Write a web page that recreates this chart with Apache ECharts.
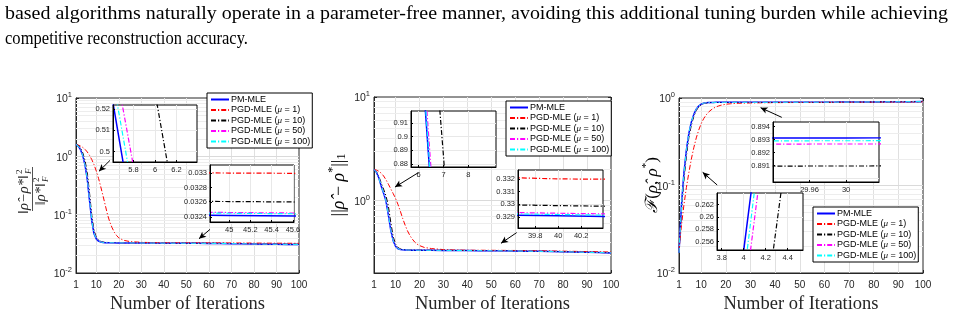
<!DOCTYPE html>
<html><head><meta charset="utf-8">
<script src="https://cdn.jsdelivr.net/npm/echarts@6/dist/echarts.min.js"></script>
<style>html,body{margin:0;padding:0;background:#fff}#c{width:953px;height:314px}</style>
</head><body><div id="c"></div>
<script>
// ---------------- DATA ----------------
const iterations = [1,2,3,4,5,6,7,8,9,10,11,12,13,14,15,16,17,18,19,20,22,25,30,35,40,45,50,55,60,65,70,75,80,85,90,95,100];
const seriesNames = ['PM-MLE','PGD-MLE (μ = 1)','PGD-MLE (μ = 10)','PGD-MLE (μ = 50)','PGD-MLE (μ = 100)'];
const xTickLabels = [1,10,20,30,40,50,60,70,80,90,100];

// left panel: relative Frobenius error
const relErrPM    = [1.60,1.50,1.30,1.03,0.706,0.406,0.175,0.078,0.047,0.0385,0.0352,0.0340,0.0334,0.0331,0.0330,0.03295,0.0329,0.03287,0.03284,0.03281,0.03277,0.03271,0.03262,0.03254,0.03247,0.03242,0.03236,0.03228,0.0322,0.0320,0.0318,0.0316,0.0314,0.0312,0.0311,0.0309,0.0308];
const relErrMu1   = [1.60,1.56,1.50,1.42,1.32,1.19,1.04,0.88,0.72,0.56,0.42,0.30,0.21,0.145,0.10,0.075,0.06,0.05,0.044,0.04,0.0365,0.0345,0.0336,0.03322,0.03305,0.0330,0.03297,0.03293,0.0329,0.03282,0.03274,0.03266,0.03258,0.0325,0.03243,0.03236,0.0323];
const relErrMu10  = [1.60,1.53,1.38,1.15,0.85,0.528,0.238,0.098,0.054,0.041,0.0365,0.0348,0.034,0.0336,0.0334,0.03325,0.03316,0.0331,0.03305,0.033,0.03294,0.03288,0.0328,0.03272,0.03266,0.03261,0.03256,0.03248,0.0324,0.03225,0.03205,0.03185,0.03165,0.03145,0.0313,0.0312,0.0311];
const relErrMu50  = [1.60,1.51,1.32,1.05,0.717,0.437,0.195,0.086,0.05,0.0392,0.0355,0.0342,0.0336,0.0333,0.0331,0.033,0.03295,0.03292,0.03289,0.03286,0.03282,0.03276,0.03267,0.03258,0.03251,0.03246,0.0324,0.03232,0.03224,0.03206,0.03186,0.03166,0.03146,0.03126,0.03112,0.03102,0.0309];
const relErrMu100 = [1.60,1.50,1.31,1.04,0.711,0.421,0.185,0.082,0.048,0.0388,0.0353,0.0341,0.0335,0.0332,0.03305,0.03298,0.03293,0.0329,0.03287,0.03284,0.0328,0.03274,0.03265,0.03257,0.0325,0.03245,0.03239,0.03231,0.03223,0.03205,0.03185,0.03165,0.03145,0.03125,0.0311,0.031,0.0309];

// middle panel: trace distance
const traceDistPM    = [2.00,1.88,1.66,1.38,1.18,0.989,0.729,0.52,0.41,0.362,0.343,0.337,0.3345,0.3335,0.3329,0.3325,0.3322,0.332,0.3318,0.3316,0.3313,0.3309,0.3303,0.3297,0.3291,0.3285,0.3279,0.3271,0.3262,0.325,0.3236,0.322,0.3203,0.3185,0.3167,0.3148,0.3128];
const traceDistMu1   = [2.00,1.97,1.92,1.84,1.73,1.59,1.44,1.30,1.17,1.05,0.92,0.79,0.67,0.58,0.51,0.46,0.425,0.398,0.38,0.368,0.353,0.3445,0.3365,0.3332,0.3320,0.3317,0.3312,0.3306,0.3299,0.329,0.3278,0.3265,0.3251,0.3236,0.3221,0.3205,0.319];
const traceDistMu10  = [2.00,1.90,1.72,1.48,1.29,1.115,0.885,0.62,0.45,0.38,0.352,0.342,0.3378,0.3358,0.3347,0.334,0.3336,0.3333,0.333,0.3328,0.3325,0.332,0.3313,0.3306,0.3299,0.3293,0.3287,0.3279,0.327,0.3258,0.3244,0.3228,0.3211,0.3193,0.3175,0.3156,0.3136];
const traceDistMu50  = [2.00,1.89,1.68,1.40,1.20,1.005,0.745,0.535,0.418,0.367,0.346,0.3385,0.3357,0.3345,0.3337,0.3332,0.3329,0.3326,0.3324,0.3322,0.3319,0.3314,0.3307,0.33,0.3293,0.3287,0.3281,0.3273,0.3264,0.3252,0.3238,0.3222,0.3205,0.3187,0.3169,0.315,0.313];
const traceDistMu100 = [2.00,1.88,1.67,1.39,1.19,0.994,0.734,0.525,0.413,0.364,0.344,0.3378,0.3352,0.3341,0.3334,0.333,0.3327,0.3324,0.3322,0.332,0.3317,0.3312,0.3306,0.3299,0.3292,0.3286,0.328,0.3272,0.3263,0.3251,0.3237,0.3221,0.3204,0.3186,0.3168,0.3149,0.3129];

// right panel: fidelity
const fidelityPM    = [0.017,0.06,0.14,0.2546,0.394,0.53,0.65,0.745,0.81,0.85,0.872,0.882,0.887,0.8895,0.8907,0.8914,0.8918,0.8921,0.8923,0.8925,0.8927,0.8929,0.89314,0.8934,0.8938,0.8943,0.8949,0.8957,0.8966,0.8977,0.899,0.9005,0.9022,0.904,0.906,0.908,0.91];
const fidelityMu1   = [0.018,0.035,0.06,0.095,0.14,0.2,0.27,0.35,0.43,0.51,0.58,0.64,0.69,0.73,0.765,0.79,0.81,0.826,0.838,0.848,0.86,0.87,0.878,0.882,0.885,0.887,0.8885,0.8897,0.891,0.8925,0.894,0.8957,0.8975,0.8995,0.9015,0.9035,0.9055];
const fidelityMu10  = [0.017,0.05,0.115,0.2187,0.352,0.49,0.615,0.72,0.792,0.838,0.864,0.876,0.8825,0.8858,0.8874,0.8884,0.889,0.8895,0.8899,0.8902,0.8905,0.8907,0.89098,0.8912,0.8916,0.8921,0.8927,0.8935,0.8944,0.8955,0.8968,0.8983,0.9,0.9018,0.9038,0.9058,0.9078];
const fidelityMu50  = [0.017,0.056,0.13,0.2459,0.386,0.525,0.645,0.74,0.806,0.847,0.87,0.8808,0.8858,0.8885,0.8898,0.8906,0.8911,0.8915,0.8918,0.892,0.8922,0.8924,0.89267,0.8929,0.8933,0.8938,0.8944,0.8952,0.8961,0.8972,0.8985,0.9,0.9017,0.9035,0.9055,0.9075,0.9095];
const fidelityMu100 = [0.017,0.058,0.135,0.2500,0.395,0.532,0.65,0.744,0.809,0.849,0.8712,0.8812,0.8862,0.8888,0.8901,0.8909,0.8914,0.8917,0.892,0.8922,0.8924,0.8926,0.89292,0.8932,0.8936,0.8941,0.8947,0.8955,0.8964,0.8975,0.8988,0.9003,0.902,0.9038,0.9058,0.9078,0.9098];

// inset tick labels
const insetL1XTicks = [5.8,6,6.2],        insetL1YTicks = [0.5,0.51,0.52];
const insetL2XTicks = [45,45.2,45.4,45.6], insetL2YTicks = [0.0324,0.0326,0.0328,0.033];
const insetM1XTicks = [6,7,8],            insetM1YTicks = [0.88,0.89,0.9,0.91];
const insetM2XTicks = [39.8,40,40.2],     insetM2YTicks = [0.329,0.33,0.331,0.332];
const insetR1XTicks = [29.96,30],         insetR1YTicks = [0.891,0.892,0.893,0.894];
const insetR2XTicks = [3.8,4,4.2,4.4],    insetR2YTicks = [0.256,0.258,0.26,0.262];

const paraLine1 = 'based algorithms naturally operate in a parameter-free manner, avoiding this additional tuning burden while achieving';
const paraLine2 = 'competitive reconstruction accuracy.';

// ---------------- BUILD ----------------
const panels = [
  {data:[relErrPM,relErrMu1,relErrMu10,relErrMu50,relErrMu100], grid:{left:76,top:98,width:223,height:175}, yMin:0.01, yMax:10,
   insets:[
     {grid:{left:113,top:105,width:84,height:57}, x:[5.61,6.39], y:[0.495,0.522], xt:insetL1XTicks, yt:insetL1YTicks},
     {grid:{left:210,top:165,width:84,height:57}, x:[44.82,45.61], y:[0.03233,0.03311], xt:insetL2XTicks, yt:insetL2YTicks}],
   arrows:[[[16.1,0.853],[11.2,0.553]],[[60.5,0.056],[55.6,0.0387]]],
   legend:{left:207,top:93}},
  {data:[traceDistPM,traceDistMu1,traceDistMu10,traceDistMu50,traceDistMu100], grid:{left:374,top:97,width:237,height:176}, yMin:0.2, yMax:10,
   insets:[
     {grid:{left:411,top:111,width:85,height:56}, x:[5.69,9.11], y:[0.8776,0.919], xt:insetM1XTicks, yt:insetM1YTicks},
     {grid:{left:518,top:170,width:85,height:58}, x:[39.65,40.39], y:[0.32814,0.3327], xt:insetM2XTicks, yt:insetM2YTicks}],
   arrows:[[[19.5,1.86],[9.77,1.35]],[[60.6,0.491],[54.05,0.387]]],
   legend:{left:506,top:101}},
  {data:[fidelityPM,fidelityMu1,fidelityMu10,fidelityMu50,fidelityMu100], grid:{left:679,top:98,width:244,height:175}, yMin:0.01, yMax:1,
   insets:[
     {grid:{left:773,top:122,width:106,height:60}, x:[29.92,30.036], y:[0.88975,0.89436], xt:insetR1XTicks, yt:insetR1YTicks},
     {grid:{left:717,top:193,width:86,height:57}, x:[3.757,4.54], y:[0.25465,0.2639], xt:insetR2XTicks, yt:insetR2YTicks}],
   arrows:[[[42.7,0.601],[34.1,0.775]],[[16.5,0.1013],[10.6,0.1415]]],
   legend:{left:813,top:207}}
];

const AX = '#262626';
const colors = ['#0000ff','#ff0000','#000000','#ff00ff','#00ffff'];
const dashDot = [5,2,1.2,2];
function lineStyleFor(i){ return i===0 ? {color:colors[0], width:1.5, type:'solid'} : {color:colors[i], width:1, type:dashDot}; }

function logMinor(min,max){ const out=[]; for(let e=-3;e<=2;e++){ for(let m=1;m<=9;m++){ const v=+(m*Math.pow(10,e)).toPrecision(6); if(v>=min*0.999 && v<=max*1.001) out.push(v);} } return out; }
function powFmt(v){ const l=Math.log10(v); const e=Math.round(l); if(Math.abs(l-e)>1e-6) return ''; return '{b|10}{s|'+e+'}'; }
const powRich = { b:{fontSize:10.5,fontFamily:'Liberation Sans',color:AX,verticalAlign:'bottom'}, s:{fontSize:7.5,fontFamily:'Liberation Sans',color:AX,verticalAlign:'bottom',padding:[0,0,6,0]} };

const grids=[], xAxes=[], yAxes=[], series=[], legends=[];

panels.forEach((p,pi)=>{
  const gi = grids.length;
  grids.push(Object.assign({show:true, backgroundColor:'#fff', borderColor:AX, borderWidth:1, z:0, containLabel:false, outerBoundsMode:'none'}, p.grid));
  const xi = xAxes.length, yi = yAxes.length;
  xAxes.push({gridIndex:gi, type:'value', min:1, max:100,
    axisLine:{show:true,lineStyle:{color:AX,width:1}},
    axisTick:{show:true,inside:true,length:3,customValues:xTickLabels,lineStyle:{color:AX}},
    axisLabel:{customValues:xTickLabels,fontSize:10,fontFamily:'Liberation Sans',color:AX,margin:7},
    splitLine:{show:false},
    name:'Number of Iterations', nameLocation:'middle', nameGap:18,
    nameTextStyle:{fontFamily:'Liberation Serif',fontSize:18.5,color:AX,verticalAlign:'top'}});
  const majors = logMinor(p.yMin,p.yMax).filter(v=>Math.abs(Math.log10(v)-Math.round(Math.log10(v)))<1e-6);
  const allTicks = logMinor(p.yMin,p.yMax);
  yAxes.push({gridIndex:gi, type:'log', logBase:10, min:p.yMin, max:p.yMax,
    axisLine:{show:true,lineStyle:{color:AX,width:1}},
    axisTick:{show:true,inside:true,length:3,customValues:allTicks,lineStyle:{color:AX}},
    axisLabel:{customValues:majors,formatter:powFmt,rich:powRich,margin:4},
    splitLine:{show:false}});
  p.data.forEach((arr,i)=>{
    series.push({type:'line', name:seriesNames[i], xAxisIndex:xi, yAxisIndex:yi,
      data: iterations.map((x,k)=>[x,arr[k]]), symbol:'none', showSymbol:false,
      lineStyle:lineStyleFor(i), z:2, silent:true, clip:true});
  });
  const gl = [];
  for (let v=10; v<=90; v+=10) gl.push({xAxis:v, lineStyle:{color:'#e0e0e0',width:1,type:'solid'}});
  allTicks.forEach(v=>{ const maj = majors.includes(v); if (v===p.yMin||v===p.yMax) return; gl.push({yAxis:v, lineStyle:{color: maj?'#dadada':'#ededed', width:1, type:'solid'}}); });
  series.push({type:'line', name:'_grid'+pi, xAxisIndex:xi, yAxisIndex:yi, data:[], silent:true,
    markLine:{silent:true, z:1, symbol:['none','none'], label:{show:false}, animation:false, data:gl}});
  series.push({type:'line', name:'_arrow'+pi, xAxisIndex:xi, yAxisIndex:yi, data:[], silent:true,
    markLine:{silent:true, z:15, label:{show:false}, animation:false, lineStyle:{color:'#000',width:1,type:'solid'},
      data:p.arrows.map(a=>[{coord:a[0],symbol:'none'},{coord:a[1],symbol:'arrow',symbolSize:[5,7]}])}});
  xAxes.push({gridIndex:gi, type:'value', min:1, max:100, position:'top', axisLine:{show:false},
    axisTick:{show:true,inside:true,length:3,customValues:xTickLabels,lineStyle:{color:AX}}, axisLabel:{show:false}, splitLine:{show:false}});
  yAxes.push({gridIndex:gi, type:'log', logBase:10, min:p.yMin, max:p.yMax, position:'right', axisLine:{show:false},
    axisTick:{show:true,inside:true,length:3,customValues:allTicks,lineStyle:{color:AX}}, axisLabel:{show:false}, splitLine:{show:false}});
  p.insets.forEach(ins=>{
    const ig = grids.length;
    grids.push(Object.assign({show:true, backgroundColor:'#fff', borderColor:'#000', borderWidth:1, z:10, containLabel:false, outerBoundsMode:'none'}, ins.grid));
    const ixi = xAxes.length, iyi = yAxes.length;
    xAxes.push({gridIndex:ig, type:'value', min:ins.x[0], max:ins.x[1], z:13,
      axisLine:{show:true,lineStyle:{color:'#000',width:1}},
      axisTick:{show:true,inside:true,length:2,customValues:ins.xt,lineStyle:{color:'#000'}},
      axisLabel:{customValues:ins.xt,fontSize:7.5,fontFamily:'Liberation Sans',color:AX,margin:4},
      splitLine:{show:false}});
    yAxes.push({gridIndex:ig, type:'value', min:ins.y[0], max:ins.y[1], z:13,
      axisLine:{show:true,lineStyle:{color:'#000',width:1}},
      axisTick:{show:true,inside:true,length:2,customValues:ins.yt,lineStyle:{color:'#000'}},
      axisLabel:{customValues:ins.yt,fontSize:7.5,fontFamily:'Liberation Sans',color:AX,margin:3},
      splitLine:{show:false}});
    p.data.forEach((arr,i)=>{
      series.push({type:'line', name:seriesNames[i], xAxisIndex:ixi, yAxisIndex:iyi,
        data: iterations.map((x,k)=>[x,arr[k]]), symbol:'none', showSymbol:false,
        lineStyle:Object.assign({},lineStyleFor(i),{width: i===0?1.5:1.2}), z:12, silent:true, clip:true});
    });
    const igl = [];
    ins.xt.forEach(v=>igl.push({xAxis:v})); ins.yt.forEach(v=>igl.push({yAxis:v}));
    series.push({type:'line', name:'_igrid', xAxisIndex:ixi, yAxisIndex:iyi, data:[], silent:true,
      markLine:{silent:true, z:11, symbol:['none','none'], label:{show:false}, animation:false,
        lineStyle:{color:'#e8e8e8',width:1,type:'solid'}, data:igl}});
  });
  legends.push({data:seriesNames, left:p.legend.left, top:p.legend.top, orient:'vertical',
    itemWidth:18, itemHeight:10, itemGap:1.5, padding:[2,2,2,3], borderColor:'#000', borderWidth:1,
    backgroundColor:'#fff', z:20, selectedMode:false,
    itemStyle:{opacity:0},
    textStyle:{fontSize:9,fontFamily:'Liberation Sans',color:'#000', padding:[0,0,0,-3], rich:{i:{fontSize:9,fontStyle:'italic',fontFamily:'Liberation Serif',color:'#000'}}},
    formatter: n => n.replace('μ','{i|μ}')});
});

// paragraph text (each line fitted to its measured width in the reference)
const mctx = document.createElement('canvas').getContext('2d');
const PF = '19px "Liberation Serif"';
mctx.font = PF;
const w1 = mctx.measureText(paraLine1).width, w2 = mctx.measureText(paraLine2).width;
const graphics = [
  {type:'text', x:5, y:14, scaleX:943/w1, style:{text:paraLine1, font:PF, fill:'#000', textVerticalAlign:'middle'}},
  {type:'text', x:5, y:39, scaleX:243/w2, style:{text:paraLine2, font:PF, fill:'#000', textVerticalAlign:'middle'}}
];

const serif = 'Liberation Serif';
graphics.push(
  // left y title (fraction)
  {type:'group', x:32.5, y:189, rotation:Math.PI/2, children:[
    {type:'line', shape:{x1:-22,y1:0,x2:22,y2:0}, style:{stroke:AX,lineWidth:0.8}},
    {type:'text', x:14, y:-8, style:{text:'‖ρ̂−ρ*‖', font:'italic 14.5px "Liberation Serif"', fill:AX, textAlign:'right', textVerticalAlign:'middle'}},
    {type:'text', x:15, y:-12.5, style:{text:'2', font:'9px "Liberation Serif"', fill:AX, textAlign:'left', textVerticalAlign:'middle'}},
    {type:'text', x:15, y:-3.5, style:{text:'F', font:'italic 9px "Liberation Serif"', fill:AX, textAlign:'left', textVerticalAlign:'middle'}},
    {type:'text', x:6, y:9, style:{text:'‖ρ*‖', font:'italic 14.5px "Liberation Serif"', fill:AX, textAlign:'right', textVerticalAlign:'middle'}},
    {type:'text', x:7, y:4.5, style:{text:'2', font:'9px "Liberation Serif"', fill:AX, textAlign:'left', textVerticalAlign:'middle'}},
    {type:'text', x:7, y:13.5, style:{text:'F', font:'italic 9px "Liberation Serif"', fill:AX, textAlign:'left', textVerticalAlign:'middle'}}
  ]},
  // middle y title
  {type:'text', x:337, y:185, rotation:Math.PI/2, style:{
    text:'{m|||}{i|ρ̂}{m| − }{i|ρ}{p|*}{m|||}{b|1}', textAlign:'center', textVerticalAlign:'middle',
    rich:{
      m:{fontFamily:serif,fontSize:18,color:AX,verticalAlign:'bottom',lineHeight:22},
      i:{fontFamily:serif,fontStyle:'italic',fontSize:18,color:AX,verticalAlign:'bottom',lineHeight:22},
      p:{fontFamily:serif,fontSize:12,color:AX,verticalAlign:'bottom',lineHeight:12,padding:[0,0,9,0]},
      b:{fontFamily:serif,fontSize:12,color:AX,verticalAlign:'bottom',lineHeight:12}
    }}},
  // right y title
  {type:'text', x:650, y:185, rotation:Math.PI/2, style:{
    text:'{c|ℱ}{m|(}{i|ρ̂}{m|, }{i|ρ}{p|*}{m|)}', textAlign:'center', textVerticalAlign:'middle',
    rich:{
      c:{fontFamily:serif,fontStyle:'italic',fontSize:17,color:AX,verticalAlign:'bottom',lineHeight:22},
      m:{fontFamily:serif,fontSize:17,color:AX,verticalAlign:'bottom',lineHeight:22},
      i:{fontFamily:serif,fontStyle:'italic',fontSize:17,color:AX,verticalAlign:'bottom',lineHeight:22},
      p:{fontFamily:serif,fontSize:11,color:AX,verticalAlign:'bottom',lineHeight:11,padding:[0,0,9,0]}
    }}}
);

const chart = echarts.init(document.getElementById('c'), null, {renderer:'canvas'});
chart.setOption({animation:false, backgroundColor:'#fff', grid:grids, xAxis:xAxes, yAxis:yAxes, series:series, legend:legends, graphic:graphics});
</script>
</body></html>
